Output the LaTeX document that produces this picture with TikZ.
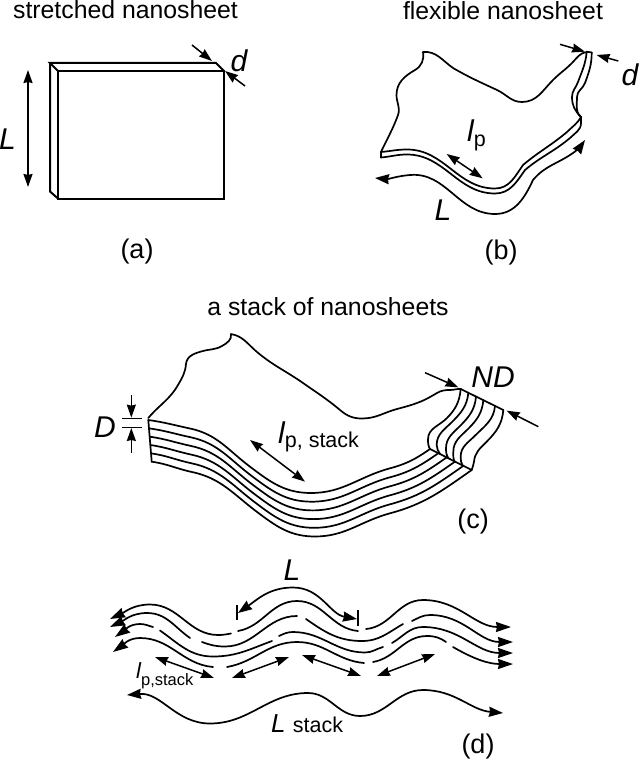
\documentclass[tikz,border=0pt]{standalone}
\usepackage{fontspec}
\setmainfont{Liberation Sans}
\usetikzlibrary{arrows.meta,calc}
\tikzset{
  line/.style={line width=1.7pt,line join=round,line cap=round,black},
  box/.style={line width=2pt,line join=miter,black},
  dim/.style={line width=1.5pt,black},
  both/.style={dim,{Stealth[length=13pt,width=9pt,inset=1pt]}-{Stealth[length=13pt,width=9pt,inset=1pt]}},
  tip/.style={dim,-{Stealth[length=13pt,width=9pt,inset=1pt]}},
  wave/.style={line,{Stealth[length=14pt,width=10pt,inset=1pt]}-{Stealth[length=14pt,width=10pt,inset=1pt]}},
  ltip/.style={line,{Stealth[length=15pt,width=10pt,inset=1pt]}-},
  rtip/.style={line,-{Stealth[length=15pt,width=10pt,inset=1pt]}},
  txt/.style={inner sep=0pt,font=\fontsize{24.8}{30}\selectfont},
  lab/.style={inner sep=0pt,font=\fontsize{27}{32}\selectfont},
  sym/.style={inner sep=0pt,font=\fontsize{30}{34}\selectfont\itshape},
}
\newcommand{\subt}[1]{\raisebox{-4.5pt}{\fontsize{21.5}{26}\selectfont\upshape #1}}
\begin{document}
\begin{tikzpicture}[x=1pt,y=-1pt]
\useasboundingbox (0,0) rectangle (640,762);
%% ---------- (a)
\node[txt] (ta) at (125.5,10) {stretched nanosheet};
\coordinate (a1) at (58,71); \coordinate (a2) at (224,71);
\coordinate (a3) at (224,198.5); \coordinate (a4) at (58,198.5);
\coordinate (a5) at (50,63); \coordinate (a6) at (216,63); \coordinate (a7) at (50,191.5);
\draw[box] (a1) -- (a2) -- (a3) -- (a4) -- cycle;
\draw[box] (a1) -- (a5) -- (a6) -- (a2);
\draw[box] (a5) -- (a7) -- (a4);
\coordinate (aL1) at (28,70); \coordinate (aL2) at (28,187);
\draw[both] (aL1) -- (aL2);
\node[sym] (aL) at (7.5,139) {L};
\coordinate (ad1) at (192,45); \coordinate (ad2) at (212,61);
\coordinate (ad3) at (245,86); \coordinate (ad4) at (225,71);
\draw[tip] (ad1) -- (ad2);
\draw[tip] (ad3) -- (ad4);
\node[sym] (ad) at (239,61) {d};
\node[lab] (la) at (137,252) {(a)};
%% ---------- (b)
\node[txt] (tb) at (503,11) {flexible nanosheet};
\draw[line] (381,152) to[out=65,in=250](398,115) to[out=70,in=-90](396.5,95) to[out=90,in=210](415,70) to[out=30,in=-80](423,52)
  to[out=5,in=145](453,68) to[out=-30,in=155](497,90) to[out=-25,in=180](522,102) to[out=0,in=225](553,80) to[out=45,in=225](572,63) to[out=45,in=185](587,52);
\draw[line] (381,152) to[out=5,in=180](407,149.5) to[out=0,in=180](495,188.5) to[out=0,in=235](523,165) to[out=40,in=220](567,132) to[out=45,in=240](581,117);
\draw[line] (381,157.5) to[out=5,in=180](407,154.5) to[out=0,in=180](495,193.5) to[out=0,in=235](525,170) to[out=40,in=220](570,138) to[out=45,in=270](581,123) -- (581,117);
\draw[line] (586.7,51.7) to[out=-95,in=70](578,82) to[out=250,in=90](572,97) to[out=-90,in=135](581,117);
\draw[line] (591.7,52.5) to[out=-90,in=70](585,83) to[out=250,in=90](577,97) to[out=-90,in=140](581,117);
\draw[line] (381,152) -- (381,157.5);
\draw[line] (586.7,51.7) -- (591.7,52.5);
\draw[wave] (375,178) to[out=-5,in=185](410,175) to[out=5,in=180](495,214) to[out=0,in=245](533,180) to[out=50,in=215](573,153) to[out=35,in=235](585,140);
\begin{scope}[shift={(340,0)},x=0.33333pt,y=-0.33333pt]
\coordinate (blp1) at (320,462); \coordinate (blp2) at (428,535);
\draw[both] (blp1) -- (blp2);
\coordinate (bd1) at (660,133); \coordinate (bd2) at (735,155);
\coordinate (bd3) at (835,183); \coordinate (bd4) at (770,165);
\draw[tip] (bd1) -- (bd2);
\draw[tip] (bd3) -- (bd4);
\end{scope}
\node[sym] (bd) at (630,75) {d};
\node[sym] (bL) at (443,210) {L};
\node[sym,anchor=base west] (blp) at (467,142) {l\subt{p}};
\node[lab] (lb) at (501,253) {(b)};
%% ---------- (c)
\node[txt] (tc) at (328,307) {a stack of nanosheets};
\draw[line] (148.3,418) to[out=50,in=240](178,385) to[out=60,in=-95](186,364) to[out=85,in=195](203,351) to[out=15,in=210](222,346) to[out=30,in=-80](231,334)
  to[out=-10,in=140](257,352) to[out=-40,in=145](303,383) to[out=-35,in=140](340,410) to[out=-40,in=180](362,418.5) to[out=0,in=195](397,409) to[out=15,in=200](417,403) to[out=20,in=210](437,393) to[out=30,in=180](450,390) to[out=0,in=175](461,389);
\coordinate (ct1) at (148.3,420); \coordinate (ct2) at (190,428.5); \coordinate (ct3) at (250,466.7);
\coordinate (ct4) at (311,493); \coordinate (ct5) at (390,468.3); \coordinate (ct6) at (430,449);
\coordinate (cb1) at (151.7,461.7); \coordinate (cb2) at (192,472); \coordinate (cb3) at (256.7,511.7);
\coordinate (cb4) at (315,536.5); \coordinate (cb5) at (390,513.3); \coordinate (cb6) at (471.7,470);
\foreach \t in {0,0.2,0.4,0.6,0.8,1}{
  \draw[line] ($(ct1)!\t!(cb1)$) to[out=-8,in=168] ($(ct2)!\t!(cb2)$) to[out=-12,in=143] ($(ct3)!\t!(cb3)$) to[out=-37,in=180] ($(ct4)!\t!(cb4)$) to[out=0,in=195] ($(ct5)!\t!(cb5)$) to[out=15,in=215] ($(ct6)!\t!(cb6)$);
}
\draw[line] (ct1) -- (cb1);
\draw[line] (ct6) -- (cb6);
\begin{scope}[shift={(340,350)},x=0.33333pt,y=-0.33333pt]
\draw[line] (362,117) to[out=-95,in=45](320,205) to[out=225,in=90](264,268) to[out=-90,in=120](270,297);
\draw[line] (385,128) to[out=-95,in=45](337,215) to[out=225,in=90](290,285) to[out=-90,in=120](300,312);
\draw[line] (408,140) to[out=-95,in=45](360,228) to[out=225,in=90](318,295) to[out=-90,in=120](325,325);
\draw[line] (430,150) to[out=-95,in=45](385,236) to[out=225,in=90](340,305) to[out=-90,in=120](345,337);
\draw[line] (465,168) to[out=-95,in=45](405,257) to[out=225,in=90](362,320) to[out=-90,in=120](368,347);
\draw[line] (490,180) to[out=-95,in=45](440,275) to[out=225,in=85](402,335) to[out=-95,in=75](395,360);
\coordinate (ce1) at (362,117); \coordinate (ce2) at (490,180);
\draw[line] (ce1) -- (ce2);
\coordinate (cn1) at (255,68); \coordinate (cn2) at (355,112);
\coordinate (cn3) at (595,230); \coordinate (cn4) at (500,182);
\draw[tip] (cn1) -- (cn2);
\draw[tip] (cn3) -- (cn4);
\end{scope}
\node[sym] (cND) at (493,377) {ND};
\begin{scope}[shift={(90,290)},x=0.33333pt,y=-0.33333pt]
\coordinate (cd1) at (97,385); \coordinate (cd2) at (155,385);
\coordinate (cd3) at (97,412); \coordinate (cd4) at (155,412);
\draw[dim] (cd1) -- (cd2);
\draw[dim] (cd3) -- (cd4);
\coordinate (cda) at (124,315); \coordinate (cdb) at (124,383);
\coordinate (cdc) at (124,488); \coordinate (cdd) at (124,414);
\draw[tip] (cda) -- (cdb);
\draw[tip] (cdc) -- (cdd);
\coordinate (clp1) at (480,450); \coordinate (clp2) at (645,575);
\draw[both] (clp1) -- (clp2);
\end{scope}
\node[sym] (cD) at (105,427) {D};
\node[sym,anchor=base west] (clp) at (278,443) {l\subt{p, stack}};
\node[lab] (lc) at (473,522) {(c)};
%% ---------- (d)
% line A
\draw[ltip] (110,619) to[out=25,in=180](150,604.5) to[out=0,in=180](218,635) to[out=0,in=190](231,633.5);
\draw[line] (238,631) to[out=10,in=180](297,601) to[out=0,in=175](358,631);
\draw[rtip] (366,629) to[out=5,in=180](423,600) to[out=0,in=180](511,627);
% line B
\draw[ltip] (110,627) to[out=25,in=180](147,613) to[out=0,in=145](190,638);
\draw[line] (202,642) to[out=-20,in=180](225,646.5) to[out=0,in=180](297,616);
\draw[line] (306,619) to[out=-35,in=180](362,641) to[out=0,in=210](403,624);
\draw[rtip] (412,621) to[out=25,in=180](430,615) to[out=0,in=180](513,642);
% line C
\draw[ltip] (115,637) to[out=35,in=180](140,624) to[out=0,in=165](153,627);
\draw[line] (160,630.5) to[out=-35,in=180](213,656.5) to[out=0,in=200](272,641);
\draw[line] (279,636) to[out=25,in=180](293,632) to[out=0,in=180](365,652.5) to[out=0,in=195](383,647);
\draw[rtip] (392,643) to[out=30,in=180](423,627) to[out=0,in=180](513,653);
% line D
\draw[ltip] (113,652) to[out=35,in=180](140,638) to[out=0,in=175](213,667);
\draw[line] (227,667) to[out=10,in=180](297,642) to[out=0,in=175](364,663);
\draw[line] (373,662) to[out=10,in=180](427,636) to[out=0,in=145](446,642);
\draw[rtip] (453,647) to[out=-30,in=180](513,664);
\coordinate (dL1) at (237,605); \coordinate (dL2) at (237,620);
\coordinate (dL3) at (358,610); \coordinate (dL4) at (358,626);
\draw[dim] (dL1) -- (dL2);
\draw[dim] (dL3) -- (dL4);
\draw[wave] (238,613) to[out=35,in=180](293,587.5) to[out=0,in=170](357,619);
\coordinate (da1) at (155,657); \coordinate (da2) at (214,678);
\coordinate (db1) at (232,678); \coordinate (db2) at (289,657);
\coordinate (dc1) at (302,655); \coordinate (dc2) at (361,676);
\coordinate (dd1) at (377,676); \coordinate (dd2) at (435,654);
\draw[both] (da1) -- (da2);
\draw[both] (db1) -- (db2);
\draw[both] (dc1) -- (dc2);
\draw[both] (dd1) -- (dd2);
\draw[wave] (127,695) to[out=5,in=180](210,723.5) to[out=0,in=180](308,693) to[out=0,in=180](360,716) to[out=0,in=180](423,690) to[out=0,in=175](503,713);
\node[sym] (dL) at (292,570) {L};
\node[sym,anchor=base west,font=\fontsize{22}{26}\selectfont\itshape] (dlp) at (136,678) {l\raisebox{-7pt}{\fontsize{16.5}{20}\selectfont\upshape p,stack}};
\node[sym,anchor=base west,font=\fontsize{26}{30}\selectfont\itshape] (dLs) at (271,732) {L {\fontsize{21.5}{26}\selectfont\upshape stack}};
\node[lab] (ld) at (478,747) {(d)};
\end{tikzpicture}
\end{document}
